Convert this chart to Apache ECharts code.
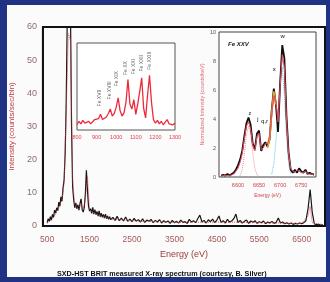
<!DOCTYPE html>
<html>
<head>
<meta charset="utf-8">
<script src="https://cdn.jsdelivr.net/npm/echarts@6/dist/echarts.min.js"></script>
<style>
  html, body { margin: 0; padding: 0; }
  #frame { position: relative; width: 330px; height: 282px; background: #1f3283; overflow: hidden; }
  #paper { position: absolute; left: 7px; top: 5px; width: 319px; height: 272px; background: #fbfbfb; }
  #chart { position: absolute; left: 0; top: 0; width: 330px; height: 282px; }
</style>
</head>
<body>
<div id="frame">
  <div id="paper"></div>
  <div id="chart"></div>
</div>
<script>
// main spectrum, black (measured)
const mainEnergyLow = [500, 525, 550, 575, 600, 625, 650, 675, 700, 725,
  750, 775, 800, 825, 850, 875, 900, 925, 950, 975,
  1000, 1025, 1050, 1075, 1100, 1125, 1150, 1175, 1200, 1225,
  1250, 1275, 1300, 1325, 1350, 1375, 1400, 1425, 1450, 1475,
  1500, 1525, 1550, 1575, 1600, 1625, 1650, 1675, 1700, 1725,
  1750, 1775, 1800, 1825, 1850, 1875, 1900, 1925, 1950, 1975, 2000];
const mainCountsLow = [1.0, 2.2, 1.4, 2.8, 1.8, 3.5, 2.6, 4.8, 3.9, 5.5,
  4.6, 7.2, 6.0, 8.8, 7.5, 11.5, 14.0, 22.0, 38.0, 64.0,
  66.0, 63.0, 65.0, 30.0, 12.0, 8.0, 5.5, 7.0, 5.2, 6.4,
  4.8, 6.8, 8.2, 5.0, 4.2, 5.6, 9.5, 16.8, 11.0, 6.0,
  4.5, 5.2, 3.8, 5.6, 3.6, 4.9, 3.4, 4.4, 3.0, 4.6,
  2.8, 3.9, 2.6, 3.5, 2.4, 3.6, 2.2, 3.0, 2.0, 2.8, 1.9];
const mainEnergyHigh = [2050, 2100, 2150, 2200, 2250, 2300, 2350, 2400, 2450, 2500,
  2550, 2600, 2650, 2700, 2750, 2800, 2850, 2900, 2950, 3000,
  3050, 3100, 3150, 3200, 3250, 3300, 3350, 3400, 3450, 3500,
  3550, 3600, 3650, 3700, 3750, 3800, 3850, 3900, 3950, 4000,
  4050, 4100, 4150, 4200, 4250, 4300, 4350, 4400, 4450, 4500,
  4550, 4600, 4650, 4700, 4750, 4800, 4850, 4900, 4950, 5000,
  5050, 5100, 5150, 5200, 5250, 5300, 5350, 5400, 5450, 5500,
  5550, 5600, 5650, 5700, 5750, 5800, 5850, 5900, 5950, 6000,
  6050, 6100, 6150, 6200, 6250, 6300, 6350, 6400, 6450, 6500,
  6550, 6600, 6650, 6700, 6750, 6800, 6850, 6900, 6950, 7000];
const mainCountsHigh = [2.6, 1.7, 2.9, 1.6, 2.4, 1.5, 2.7, 1.4, 2.1, 1.3,
  2.3, 1.5, 1.9, 1.2, 2.2, 1.1, 1.8, 1.4, 2.0, 1.0,
  1.7, 1.2, 1.9, 0.9, 1.6, 1.1, 1.5, 0.8, 1.7, 1.0,
  1.4, 0.9, 1.8, 1.1, 1.3, 0.8, 2.0, 1.2, 1.6, 1.0,
  2.2, 3.3, 1.2, 1.7, 0.9, 1.9, 1.3, 2.1, 1.0, 1.8,
  3.0, 1.1, 1.6, 0.9, 2.0, 1.2, 1.5, 2.2, 3.6, 1.0,
  1.7, 0.9, 1.4, 1.8, 0.8, 1.5, 1.1, 1.6, 0.8, 1.3,
  1.0, 1.5, 0.7, 1.2, 0.9, 1.4, 0.8, 1.1, 2.4, 0.9,
  1.2, 0.7, 1.0, 0.6, 0.9, 0.5, 0.8, 0.6, 0.9, 0.7,
  1.0, 1.6, 5.2, 11.0, 4.0, 0.6, 0.4, 0.5, 0.3, 0.4];

// main spectrum, red (model)
const modelEnergy = [500, 550, 600, 650, 700, 750, 800, 850, 900, 950,
  1000, 1050, 1100, 1150, 1200, 1250, 1300, 1350, 1400, 1450,
  1500, 1550, 1600, 1650, 1700, 1750, 1800, 1850, 1900, 1950,
  2000, 2250, 2500, 2750, 3000, 3250, 3500, 3750, 4000, 4250,
  4500, 4750, 5000, 5250, 5500, 5750, 6000, 6250, 6500, 6650, 6700, 6750, 7000];
const modelCounts = [0.8, 1.3, 1.9, 2.6, 3.6, 4.8, 6.2, 8.0, 13.0, 35.0,
  58.0, 56.0, 14.0, 6.5, 5.5, 5.2, 6.8, 5.0, 8.0, 15.0,
  5.0, 4.3, 4.0, 3.7, 3.4, 3.1, 2.9, 2.7, 2.5, 2.3,
  2.1, 1.8, 1.6, 1.4, 1.3, 1.2, 1.1, 1.1, 1.2, 1.1,
  1.2, 1.1, 1.2, 1.0, 1.0, 0.9, 0.9, 0.8, 0.8, 3.0, 6.0, 1.0, 0.4];
const mainTicks = [500, 1500, 2500, 3500, 4500, 5500, 6500];

// inset 1: Fe L region
const feLEnergy = [800, 810, 820, 830, 840, 850, 860, 870, 880, 890,
  900, 910, 920, 930, 940, 950, 960, 970, 980, 990,
  1000, 1010, 1020, 1030, 1040, 1050, 1060, 1070, 1080, 1090,
  1100, 1110, 1120, 1130, 1140, 1150, 1160, 1170, 1180, 1190,
  1200, 1210, 1220, 1230, 1240, 1250, 1260, 1270, 1280, 1290, 1300];
const feLFlux = [0.6, 1.0, 0.7, 1.1, 0.8, 0.6, 1.0, 0.7, 0.9, 1.2,
  1.0, 1.3, 1.8, 1.2, 1.0, 1.5, 1.9, 2.4, 1.6, 1.9,
  2.6, 3.7, 2.2, 1.6, 2.0, 3.2, 5.8, 3.0, 2.4, 3.5,
  1.8, 3.0, 4.4, 6.0, 2.5, 1.4, 4.0, 6.3, 3.2, 1.2,
  0.8, 1.1, 0.7, 1.0, 0.6, 0.9, 1.2, 0.7, 0.9, 0.6, 0.8];
const feLLineNames = ['Fe XVII', 'Fe XVIII', 'Fe XIX', 'Fe XX', 'Fe XXI', 'Fe XXII', 'Fe XXIII'];
const feLLineEnergy = [915, 965, 1000, 1050, 1088, 1128, 1168];
const feLLineLevel = [2.6, 3.4, 4.9, 6.2, 6.3, 6.6, 6.8];

// inset 2: Fe XXV K region
const feKEnergy = [6560, 6565, 6570, 6575, 6580, 6585, 6590, 6595, 6600, 6605,
  6610, 6615, 6620, 6625, 6630, 6635, 6640, 6645, 6650, 6655,
  6660, 6665, 6670, 6675, 6680, 6685, 6690, 6695, 6700, 6705,
  6710, 6715, 6720, 6725, 6730, 6735, 6740, 6745, 6750, 6755,
  6760, 6765, 6770, 6775, 6780];
const feKData = [0.1, 0.15, 0.1, 0.2, 0.1, 0.2, 0.3, 0.5, 0.8, 1.2,
  1.8, 2.8, 3.7, 4.1, 3.6, 2.3, 1.9, 3.0, 3.2, 1.8,
  2.2, 2.4, 2.1, 2.6, 4.6, 6.1, 5.0, 3.1, 6.5, 9.1,
  8.2, 4.2, 1.7, 0.5, 0.3, 0.5, 0.3, 0.6, 0.4, 0.3,
  0.5, 0.2, 0.3, 0.2, 0.2];
const feKModel = [0.05, 0.1, 0.1, 0.1, 0.1, 0.15, 0.2, 0.4, 0.6, 1.0,
  1.6, 2.6, 3.5, 3.8, 3.3, 2.2, 1.8, 2.8, 3.0, 1.9,
  2.0, 2.3, 2.3, 2.8, 4.3, 5.6, 5.2, 3.8, 6.3, 8.4,
  7.6, 4.0, 1.6, 0.6, 0.4, 0.3, 0.5, 0.4, 0.3, 0.3,
  0.4, 0.2, 0.2, 0.2, 0.1];
const feKOrangeEnergy = [6670, 6675, 6680, 6685, 6690];
const feKOrange = [2.0, 2.6, 4.4, 5.9, 5.0];
const feKCyanEnergy = [6680, 6685, 6690, 6695, 6700, 6705, 6710, 6715, 6720, 6725];
const feKCyan = [0.2, 0.9, 2.4, 4.6, 6.8, 7.6, 5.6, 2.8, 0.9, 0.2];
const feKPinkEnergy = [6605, 6610, 6615, 6620, 6625, 6630, 6635, 6640, 6645, 6650];
const feKPink = [0.1, 0.5, 1.5, 2.9, 3.5, 3.0, 1.7, 0.6, 0.15, 0.05];
const feKLineNames = ['z', 'j', 'q,r', 'x', 'w'];
const feKLineEnergy = [6628, 6647, 6663, 6686, 6706];
const feKLineLevel = [4.4, 4.0, 3.8, 7.4, 9.7];
const feKTicks = [6600, 6650, 6700, 6750];

const caption = 'SXD-HST BRIT measured X-ray spectrum (courtesy, B. Silver)';
const FONT = '"Liberation Sans", Arial, sans-serif';

const pairs = (xs, ys) => xs.map((x, i) => [x, ys[i]]);
const plain = v => String(v);

const chart = echarts.init(document.getElementById('chart'));

const option = {
  animation: false,
  backgroundColor: 'transparent',
  textStyle: { fontFamily: FONT },
  title: [
    {
      text: caption, left: 52, top: 266,
      textStyle: { fontSize: 7.2, fontWeight: 'bold', color: '#111', fontFamily: FONT }
    },
    {
      text: 'Fe XXV', left: 223, top: 36, z: 8,
      textStyle: { fontSize: 6, fontWeight: 'bold', fontStyle: 'italic', color: '#222', fontFamily: FONT }
    }
  ],
  grid: [
    { left: 38, top: 27, right: 5, bottom: 56, show: true, borderColor: '#111', borderWidth: 2, backgroundColor: 'transparent' },
    { left: 77, top: 43, width: 98, height: 87, show: true, borderColor: '#555', borderWidth: 1, backgroundColor: '#fff', z: 5 },
    { left: 219, top: 32, width: 97, height: 145, show: true, borderColor: '#444', borderWidth: 1, backgroundColor: '#fff', z: 5 }
  ],
  xAxis: [
    {
      gridIndex: 0, type: 'value', min: 400, max: 7050,
      name: 'Energy (eV)', nameLocation: 'middle', nameGap: 24,
      nameTextStyle: { fontSize: 9, color: '#9b3a3a' },
      axisLine: { lineStyle: { color: '#111', width: 2 } },
      axisTick: { show: false },
      splitLine: { show: false },
      axisLabel: { customValues: mainTicks, formatter: plain, fontSize: 8.5, color: '#a55a5a', margin: 9 }
    },
    {
      gridIndex: 1, type: 'value', min: 800, max: 1300, interval: 100, z: 6,
      axisLine: { show: false }, axisTick: { show: false }, splitLine: { show: false },
      axisLabel: { formatter: plain, fontSize: 5.5, color: '#e04050', margin: 4 }
    },
    {
      gridIndex: 2, type: 'value', min: 6555, max: 6785, z: 6,
      name: 'Energy (eV)', nameLocation: 'middle', nameGap: 14,
      nameTextStyle: { fontSize: 5, color: '#d04050' },
      axisLine: { show: false }, axisTick: { show: false }, splitLine: { show: false },
      axisLabel: { customValues: feKTicks, formatter: plain, fontSize: 5.5, color: '#d04050', margin: 5 }
    }
  ],
  yAxis: [
    {
      gridIndex: 0, type: 'value', min: 0, max: 60, interval: 10,
      name: 'Intensity (counts/sec/bin)', nameLocation: 'middle', nameGap: 22,
      nameTextStyle: { fontSize: 8, color: '#c0404a' },
      axisLine: { lineStyle: { color: '#111', width: 2 } },
      axisTick: { show: false },
      splitLine: { show: false },
      axisLabel: { fontSize: 9, color: '#8f6a6a', margin: 6 }
    },
    {
      gridIndex: 1, type: 'value', min: 0, max: 10, z: 6,
      axisLine: { show: false }, axisTick: { show: false }, splitLine: { show: false },
      axisLabel: { show: false }
    },
    {
      gridIndex: 2, type: 'value', min: 0, max: 10, interval: 2, z: 6,
      name: 'Normalized Intensity (counts/keV)', nameLocation: 'middle', nameGap: 13,
      nameTextStyle: { fontSize: 5.5, color: '#e06a78' },
      axisLine: { show: false }, axisTick: { show: false }, splitLine: { show: false },
      axisLabel: { fontSize: 5.5, color: '#555', margin: 3 }
    }
  ],
  series: [
    {
      name: 'measured', type: 'line', xAxisIndex: 0, yAxisIndex: 0, z: 2,
      showSymbol: false, clip: true,
      lineStyle: { color: '#151515', width: 1.2 },
      data: pairs(mainEnergyLow.concat(mainEnergyHigh), mainCountsLow.concat(mainCountsHigh))
    },
    {
      name: 'model', type: 'line', xAxisIndex: 0, yAxisIndex: 0, z: 3,
      showSymbol: false, clip: true,
      lineStyle: { color: '#e2404e', width: 1, type: 'dotted', opacity: 0.85 },
      data: pairs(modelEnergy, modelCounts)
    },
    {
      name: 'Fe L', type: 'line', xAxisIndex: 1, yAxisIndex: 1, z: 6,
      showSymbol: false,
      lineStyle: { color: '#ee2a3a', width: 1.3 },
      data: pairs(feLEnergy, feLFlux)
    },
    {
      name: 'Fe L lines', type: 'scatter', xAxisIndex: 1, yAxisIndex: 1, z: 7,
      symbolSize: 0,
      label: {
        show: true, position: 'top', distance: 1, rotate: 90, align: 'left', verticalAlign: 'middle',
        fontSize: 5, color: '#333',
        formatter: p => feLLineNames[p.dataIndex]
      },
      data: pairs(feLLineEnergy, feLLineLevel)
    },
    {
      name: 'Fe K pink', type: 'line', xAxisIndex: 2, yAxisIndex: 2, z: 6,
      showSymbol: false,
      lineStyle: { color: '#f08a9a', width: 1, type: 'dotted' },
      data: pairs(feKPinkEnergy, feKPink)
    },
    {
      name: 'Fe K cyan', type: 'line', xAxisIndex: 2, yAxisIndex: 2, z: 6,
      showSymbol: false,
      lineStyle: { color: '#5cc8d8', width: 1, type: 'dotted' },
      data: pairs(feKCyanEnergy, feKCyan)
    },
    {
      name: 'Fe K data', type: 'line', xAxisIndex: 2, yAxisIndex: 2, z: 7,
      showSymbol: false,
      lineStyle: { color: '#111', width: 1.8 },
      data: pairs(feKEnergy, feKData)
    },
    {
      name: 'Fe K orange', type: 'line', xAxisIndex: 2, yAxisIndex: 2, z: 8,
      showSymbol: false,
      lineStyle: { color: '#e8a020', width: 1.6 },
      data: pairs(feKOrangeEnergy, feKOrange)
    },
    {
      name: 'Fe K model', type: 'line', xAxisIndex: 2, yAxisIndex: 2, z: 8,
      showSymbol: false,
      lineStyle: { color: '#ef4a5e', width: 1 },
      data: pairs(feKEnergy, feKModel)
    },
    {
      name: 'Fe K lines', type: 'scatter', xAxisIndex: 2, yAxisIndex: 2, z: 9,
      symbolSize: 0,
      label: {
        show: true, position: 'inside', fontSize: 5.5, fontWeight: 'bold', color: '#222',
        formatter: p => feKLineNames[p.dataIndex]
      },
      data: pairs(feKLineEnergy, feKLineLevel)
    }
  ]
};

chart.setOption(option);
</script>
</body>
</html>
